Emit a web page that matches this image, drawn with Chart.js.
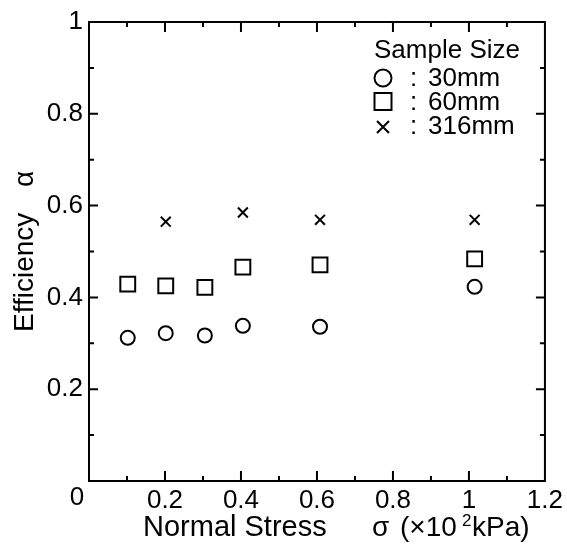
<!DOCTYPE html>
<html>
<head>
<meta charset="utf-8">
<title>Efficiency vs Normal Stress</title>
<script src="https://cdn.jsdelivr.net/npm/chart.js@4.4.0/dist/chart.umd.min.js"></script>
<style>
  html, body { margin: 0; padding: 0; background: #fff; }
</style>
</head>
<body>
<canvas id="effChart" width="567" height="544"></canvas>
<script>
// ---- data: efficiency a against normal stress (x 10^2 kPa) ----
const stress30 = [0.102, 0.202, 0.305, 0.405, 0.608, 1.015];
const eff30    = [0.312, 0.322, 0.317, 0.338, 0.336, 0.423];

const stress60 = [0.102, 0.202, 0.305, 0.405, 0.608, 1.015];
const eff60    = [0.429, 0.425, 0.422, 0.466, 0.471, 0.484];

const stress316 = [0.202, 0.405, 0.608, 1.015];
const eff316    = [0.565, 0.585, 0.569, 0.569];

const sizeLabels = ['30mm', '60mm', '316mm'];
const legendTitle = 'Sample Size';

const xMin = 0, xMax = 1.2, xStep = 0.2, xMinorStep = 0.1;
const yMin = 0, yMax = 1, yStep = 0.2, yMinorStep = 0.1;

const FONT = '"Liberation Sans", Arial, Helvetica, sans-serif';

function toPoints(xs, ys) {
  return xs.map((v, i) => ({ x: v, y: ys[i] }));
}

function fmtTick(v) {
  return String(+v.toFixed(1));
}

// frame, inward ticks on all four sides, origin label, axis titles, legend
const decorations = {
  id: 'decorations',
  afterDatasetsDraw(chart) {
    const { ctx, chartArea: a, scales: { x, y } } = chart;
    ctx.save();
    ctx.strokeStyle = '#000';
    ctx.fillStyle = '#000';
    ctx.lineWidth = 2;
    ctx.strokeRect(a.left, a.top, a.right - a.left, a.bottom - a.top);

    ctx.beginPath();
    const nx = Math.round((xMax - xMin) / xMinorStep);
    for (let i = 1; i < nx; i++) {
      const v = xMin + i * xMinorStep;
      const len = (i % Math.round(xStep / xMinorStep) === 0) ? 10 : 5;
      const px = x.getPixelForValue(v);
      ctx.moveTo(px, a.bottom); ctx.lineTo(px, a.bottom - len);
      ctx.moveTo(px, a.top); ctx.lineTo(px, a.top + len);
    }
    const ny = Math.round((yMax - yMin) / yMinorStep);
    for (let i = 1; i < ny; i++) {
      const v = yMin + i * yMinorStep;
      const len = (i % Math.round(yStep / yMinorStep) === 0) ? 9 : 5;
      const py = y.getPixelForValue(v);
      ctx.moveTo(a.left, py); ctx.lineTo(a.left + len, py);
      ctx.moveTo(a.right, py); ctx.lineTo(a.right - len, py);
    }
    ctx.stroke();

    // shared origin label
    ctx.font = '26px ' + FONT;
    ctx.textAlign = 'center';
    ctx.textBaseline = 'alphabetic';
    ctx.fillText('0', a.left - 12, a.bottom + 24);

    // x axis title
    ctx.textAlign = 'left';
    ctx.font = '29px ' + FONT;
    ctx.fillText('Normal Stress', 143, 536);
    ctx.font = '28px ' + FONT;
    ctx.fillText('\u03c3', 372, 536);
    ctx.fillText('(\u00d710', 400, 536);
    ctx.font = '17px ' + FONT;
    ctx.fillText('2', 462, 526);
    ctx.font = '28px ' + FONT;
    ctx.fillText('kPa)', 472, 536);

    // y axis title
    ctx.save();
    ctx.translate(33, 332);
    ctx.rotate(-Math.PI / 2);
    ctx.font = '28px ' + FONT;
    ctx.fillText('Efficiency', 0, 0);
    ctx.fillText('\u03b1', 145, 0);
    ctx.restore();

    // legend
    ctx.font = '26px ' + FONT;
    ctx.fillText(legendTitle, 374, 58);
    const rows = [86, 110, 134];
    const mx = 383;
    ctx.lineWidth = 2;
    // circle
    ctx.beginPath();
    ctx.arc(mx, rows[0] - 8, 8.5, 0, Math.PI * 2);
    ctx.stroke();
    // square
    ctx.strokeRect(mx - 8.5, rows[1] - 17, 17, 17);
    // cross
    ctx.beginPath();
    ctx.moveTo(mx - 6, rows[2] - 13); ctx.lineTo(mx + 6, rows[2] - 1);
    ctx.moveTo(mx + 6, rows[2] - 13); ctx.lineTo(mx - 6, rows[2] - 1);
    ctx.stroke();
    sizeLabels.forEach((t, i) => {
      ctx.fillText(':', 410, rows[i]);
      ctx.fillText(t, 428, rows[i]);
    });

    ctx.restore();
  }
};

const markerBase = {
  showLine: false,
  borderColor: '#000',
  backgroundColor: 'rgba(0,0,0,0)',
  borderWidth: 2
};

new Chart(document.getElementById('effChart'), {
  type: 'scatter',
  data: {
    datasets: [
      { ...markerBase, label: sizeLabels[0], data: toPoints(stress30, eff30), pointStyle: 'circle', pointRadius: 7 },
      { ...markerBase, label: sizeLabels[1], data: toPoints(stress60, eff60), pointStyle: 'rect', pointRadius: 10.5 },
      { ...markerBase, label: sizeLabels[2], data: toPoints(stress316, eff316), pointStyle: 'crossRot', pointRadius: 7 }
    ]
  },
  options: {
    responsive: false,
    animation: false,
    layout: { padding: { left: 0, top: 22, right: 21, bottom: 0 } },
    plugins: { legend: { display: false }, tooltip: { enabled: false } },
    scales: {
      x: {
        type: 'linear',
        min: xMin, max: xMax,
        afterFit: s => { s.height = 63; },
        grid: { display: false, drawTicks: false },
        border: { display: false },
        ticks: {
          stepSize: xStep,
          padding: 4,
          maxRotation: 0,
          color: '#000',
          font: { family: FONT, size: 26 },
          callback: v => (v === 0 ? '' : fmtTick(v))
        }
      },
      y: {
        min: yMin, max: yMax,
        afterFit: s => { s.width = 89; },
        grid: { display: false, drawTicks: false },
        border: { display: false },
        ticks: {
          stepSize: yStep,
          padding: 6,
          color: '#000',
          font: { family: FONT, size: 26 },
          callback: v => (v === 0 ? '' : fmtTick(v))
        }
      }
    }
  },
  plugins: [decorations]
});
</script>
</body>
</html>
